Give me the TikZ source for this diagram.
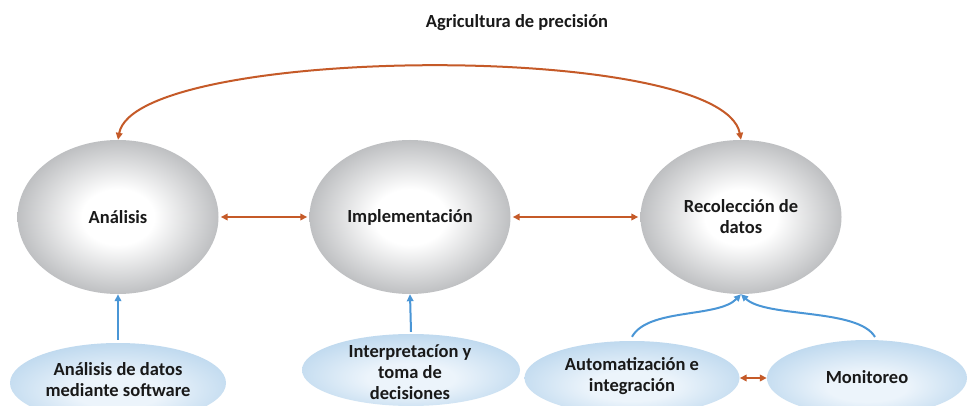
\documentclass[tikz,border=0pt]{standalone}
\usepackage{fontspec}
\setmainfont{Carlito}
\usetikzlibrary{shapes.geometric,arrows.meta,calc}
\definecolor{ballgray}{RGB}{166,168,171}
\definecolor{blueedge}{RGB}{174,207,234}
\definecolor{bluemid}{RGB}{236,244,251}
\definecolor{orng}{RGB}{197,90,40}
\definecolor{blu}{RGB}{74,150,214}
\definecolor{txt}{RGB}{25,25,25}
\pgfdeclareradialshading{grayball}{\pgfpoint{0bp}{0bp}}{color(0bp)=(white); color(9bp)=(white); color(31bp)=(ballgray); color(50bp)=(ballgray)}
\pgfdeclareradialshading{blueball}{\pgfpoint{0bp}{-7bp}}{color(0bp)=(bluemid); color(10bp)=(bluemid); color(35bp)=(blueedge); color(50bp)=(blueedge)}
\begin{document}
\begin{tikzpicture}[x=1pt,y=-1pt,
  lbl/.style={font=\fontsize{18.5pt}{21pt}\selectfont\bfseries, text=txt, align=center, inner sep=0pt},
  ball/.style={ellipse, shade, shading=grayball, minimum width=201pt, minimum height=154pt, inner sep=0pt},
  leaf/.style={ellipse, shade, shading=blueball, inner sep=0pt},
  oarrow/.style={draw=orng, line width=2pt, {Triangle[length=7pt,width=6.5pt]}-{Triangle[length=7pt,width=6.5pt]}},
  barrow/.style={draw=blu, line width=2pt, -{Triangle[length=7pt,width=6.5pt]}}]
\useasboundingbox (0,0) rectangle (969,406);
\clip (0,0) rectangle (969,406);
\fill[white] (0,0) rectangle (969,406);

\node[lbl, anchor=base] (title) at (517,28) {Agricultura de precisión};

% main ellipses
\node[ball] (an) at (118,217) {};
\node[lbl] (ant) at (an.center) {Análisis};
\node[ball] (im) at (410,217) {};
\node[lbl] (imt) at (im.center) {Implementación};
\node[ball] (re) at (741,217) {};
\node[lbl] (ret) at (re.center) {Recolección de\\datos};

% bottom ellipses
\node[leaf, minimum width=216pt, minimum height=80pt] (b1) at (118,383) {};
\node[lbl] (b1t) at (118,380) {Análisis de datos\\mediante software};
\node[leaf, minimum width=218pt, minimum height=72pt] (b2) at (411,370) {};
\node[lbl] (b2t) at (410,372) {Interpretacíon y\\toma de\\decisiones};
\node[leaf, minimum width=215pt, minimum height=74pt] (b3) at (632,378) {};
\node[lbl] (b3t) at (632,376) {Automatización e\\integración};
\node[leaf, minimum width=200pt, minimum height=76pt] (b4) at (867,378) {};
\node[lbl] (b4t) at (867,377) {Monitoreo};

% orange connectors
\draw[oarrow] (an.north) .. controls (135,45) and (722,40) .. (re.north);
\draw[oarrow] ($(an.east)+(2,0)$) -- ($(im.west)+(-2,0)$);
\draw[oarrow] ($(im.east)+(2,0)$) -- ($(re.west)+(-2,0)$);
\draw[oarrow] (b3.east) -- (b3.east -| b4.west);

% blue connectors
\draw[barrow] ($(b1.north)+(0,-3)$) -- (an.south);
\draw[barrow] ($(b2.north)+(0,-2)$) -- (im.south);
\coordinate (auS) at ($(b3.north)+(0,-4)$);
\coordinate (moS) at (875,337);
\draw[barrow] (auS) .. controls (648,308) and (718,318) .. (re.south);
\draw[barrow] (moS) .. controls (858,308) and (766,318) .. (re.south);
\end{tikzpicture}
\end{document}
